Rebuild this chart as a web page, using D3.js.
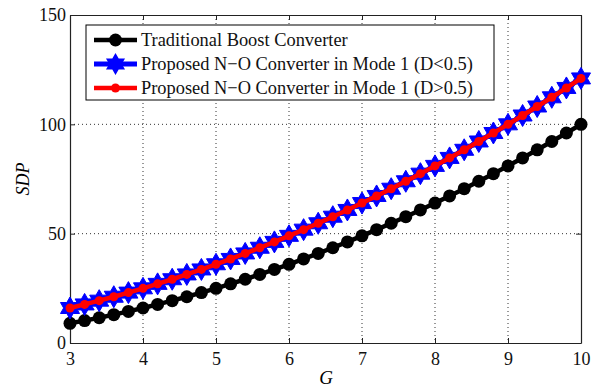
<!DOCTYPE html>
<html><head><meta charset="utf-8">
<script src="https://cdn.jsdelivr.net/npm/d3@7"></script>
<style>body{margin:0;background:#fff}svg{display:block}</style>
</head><body><div id="c"></div>
<script>
const G = [3,3.2,3.4,3.6,3.8,4,4.2,4.4,4.6,4.8,5,5.2,5.4,5.6,5.8,6,6.2,6.4,6.6,6.8,7,7.2,7.4,7.6,7.8,8,8.2,8.4,8.6,8.8,9,9.2,9.4,9.6,9.8,10];
const traditional = [9,10.24,11.56,12.96,14.44,16,17.64,19.36,21.16,23.04,25,27.04,29.16,31.36,33.64,36,38.44,40.96,43.56,46.24,49,51.84,54.76,57.76,60.84,64,67.24,70.56,73.96,77.44,81,84.64,88.36,92.16,96.04,100];
const proposedLow = [16,17.64,19.36,21.16,23.04,25,27.04,29.16,31.36,33.64,36,38.44,40.96,43.56,46.24,49,51.84,54.76,57.76,60.84,64,67.24,70.56,73.96,77.44,81,84.64,88.36,92.16,96.04,100,104.04,108.16,112.36,116.64,121];
const proposedHigh = [16,17.64,19.36,21.16,23.04,25,27.04,29.16,31.36,33.64,36,38.44,40.96,43.56,46.24,49,51.84,54.76,57.76,60.84,64,67.24,70.56,73.96,77.44,81,84.64,88.36,92.16,96.04,100,104.04,108.16,112.36,116.64,121];
const xTicks = [3,4,5,6,7,8,9,10];
const yTicks = [0,50,100,150];
const legendLabels = ["Traditional Boost Converter","Proposed N\u2212O Converter in Mode 1 (D<0.5)","Proposed N\u2212O Converter in Mode 1 (D>0.5)"];

const W=612,H=387, L=70,R=581,T=15,B=343;
const svg=d3.select("#c").append("svg").attr("width",W).attr("height",H);
const x=d3.scaleLinear().domain([3,10]).range([L,R]);
const y=d3.scaleLinear().domain([0,150]).range([B,T]);
const font="'Liberation Serif','Times New Roman',serif";

// grid
const g=svg.append("g");
g.selectAll(".gx").data(xTicks.slice(1,-1)).join("line")
 .attr("x1",d=>x(d)).attr("x2",d=>x(d)).attr("y1",T).attr("y2",B)
 .attr("stroke","#333").attr("stroke-width",1).attr("stroke-dasharray","1,3");
g.selectAll(".gy").data(yTicks.slice(1,-1)).join("line")
 .attr("y1",d=>y(d)).attr("y2",d=>y(d)).attr("x1",L).attr("x2",R)
 .attr("stroke","#333").attr("stroke-width",1).attr("stroke-dasharray","1,3");

// axes
const ax=svg.append("g").attr("font-family",font);
ax.append("g").attr("transform",`translate(0,${B})`).call(d3.axisBottom(x).tickValues(xTicks).tickFormat(d3.format("d")).tickSizeInner(-5).tickSizeOuter(0).tickPadding(9));
ax.append("g").attr("transform",`translate(0,${T})`).call(d3.axisTop(x).tickValues(xTicks).tickSizeInner(-5).tickSizeOuter(0).tickFormat(""));
ax.append("g").attr("transform",`translate(${L},0)`).call(d3.axisLeft(y).tickValues(yTicks).tickFormat(d3.format("d")).tickSizeInner(-5).tickSizeOuter(0).tickPadding(4));
ax.append("g").attr("transform",`translate(${R},0)`).call(d3.axisRight(y).tickValues(yTicks).tickSizeInner(-5).tickSizeOuter(0).tickFormat(""));
ax.selectAll(".domain").attr("stroke","#222").attr("stroke-width",1.2);
ax.selectAll(".tick line").attr("stroke","#222");
ax.selectAll(".tick text").attr("font-size",18).attr("font-family",font).attr("fill","#111");

// series
const lineGen=d3.line().x((d,i)=>x(G[i])).y(d=>y(d));
function hexagram(r){
  const pts=[];
  for(let k=0;k<12;k++){
    const a=-Math.PI/2+k*Math.PI/6;
    const rr=k%2===0?r:r*0.577;
    pts.push([rr*Math.cos(a),rr*Math.sin(a)]);
  }
  return "M"+pts.map(p=>p.join(",")).join("L")+"Z";
}
svg.append("path").datum(traditional).attr("d",lineGen).attr("fill","none").attr("stroke","#000").attr("stroke-width",4.5);
svg.selectAll(".cb").data(traditional).join("circle").attr("cx",(d,i)=>x(G[i])).attr("cy",d=>y(d)).attr("r",6.5).attr("fill","#000");

svg.append("path").datum(proposedLow).attr("d",lineGen).attr("fill","none").attr("stroke","#0000ff").attr("stroke-width",5);
svg.selectAll(".sb").data(proposedLow).join("path").attr("transform",(d,i)=>`translate(${x(G[i])},${y(d)})`).attr("d",hexagram(11)).attr("fill","#0000ff").attr("stroke","#0000ff").attr("stroke-width",1);

svg.append("path").datum(proposedHigh).attr("d",lineGen).attr("fill","none").attr("stroke","#ff0000").attr("stroke-width",4.5);
svg.selectAll(".cr").data(proposedHigh).join("circle").attr("cx",(d,i)=>x(G[i])).attr("cy",d=>y(d)).attr("r",4.5).attr("fill","#ff0000");

// legend
const lg=svg.append("g");
lg.append("rect").attr("x",86).attr("y",25).attr("width",408).attr("height",75).attr("fill","#fff").attr("stroke","#000").attr("stroke-width",1);
const rowsY=[40,64,88];
const items=[{c:"#000",w:4.5,m:"circle",r:6.5},{c:"#0000ff",w:5,m:"star",r:11},{c:"#ff0000",w:4.5,m:"circle",r:4.5}];
items.forEach((it,i)=>{
  const yy=rowsY[i];
  lg.append("line").attr("x1",94).attr("x2",137).attr("y1",yy).attr("y2",yy).attr("stroke",it.c).attr("stroke-width",it.w);
  if(it.m==="circle") lg.append("circle").attr("cx",115.5).attr("cy",yy).attr("r",it.r).attr("fill",it.c);
  else lg.append("path").attr("transform",`translate(115.5,${yy})`).attr("d",hexagram(it.r)).attr("fill",it.c);
  lg.append("text").attr("x",141).attr("y",yy+6).attr("font-family",font).attr("font-size",18.4).attr("fill","#111").text(legendLabels[i]);
});

// axis labels
svg.append("text").attr("x",326).attr("y",384).attr("text-anchor","middle").attr("font-family",font).attr("font-style","italic").attr("font-size",19).text("G");
svg.append("text").attr("transform","translate(29,179) rotate(-90)").attr("text-anchor","middle").attr("font-family",font).attr("font-style","italic").attr("font-size",18).text("SDP");
</script></body></html>
